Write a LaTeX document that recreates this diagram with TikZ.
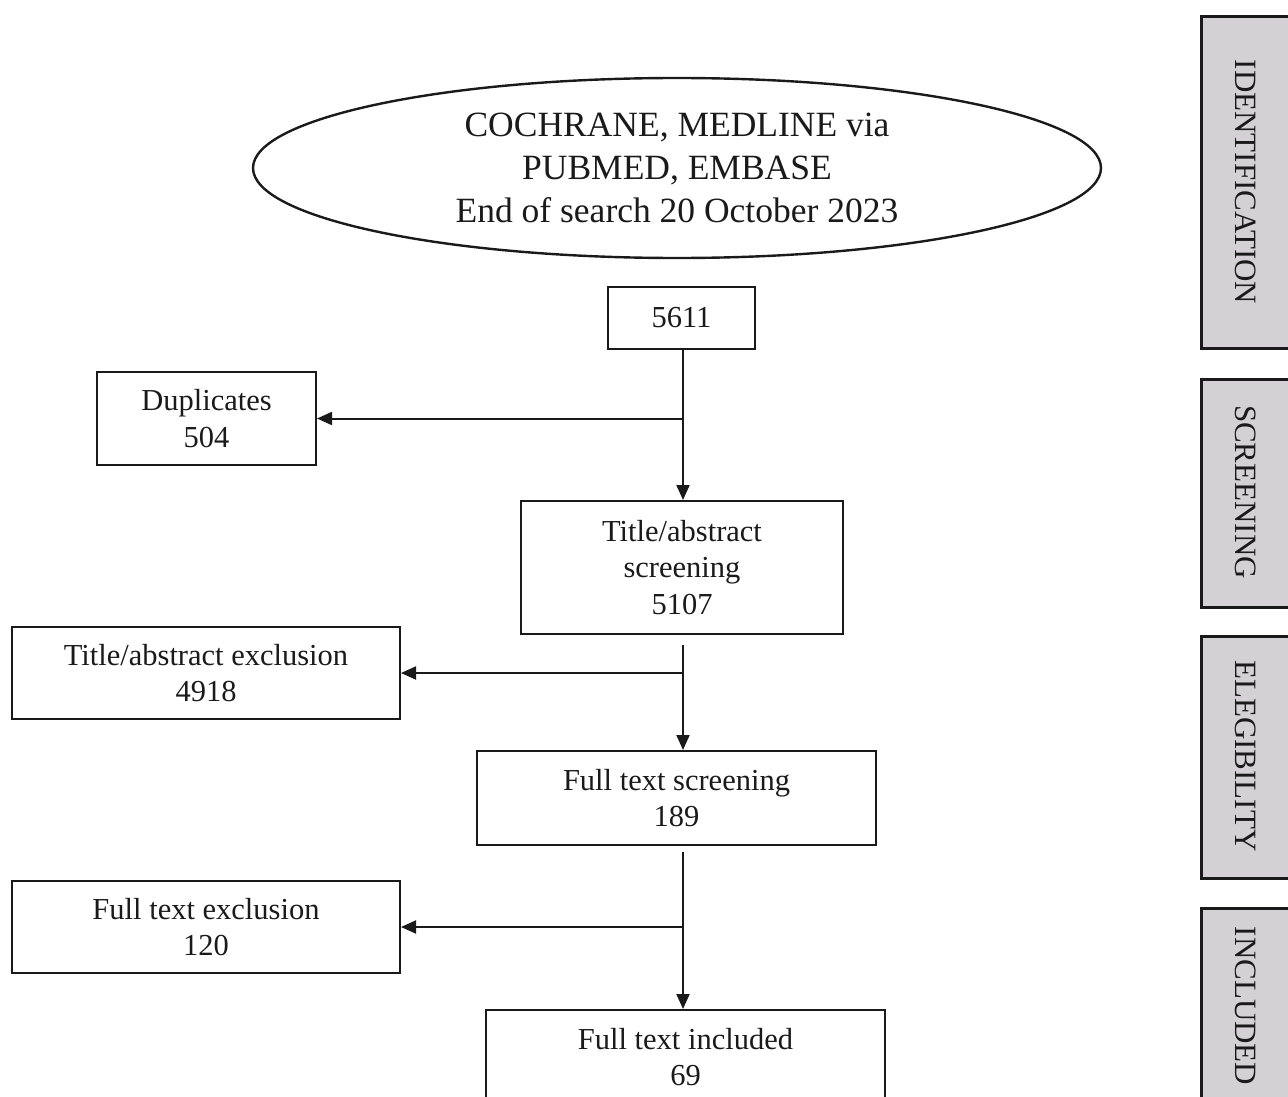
\documentclass[tikz,border=0pt]{standalone}
\usepackage{fontspec}
\setmainfont{Liberation Serif}
\usetikzlibrary{shapes.geometric,arrows.meta}
\definecolor{sidegrey}{HTML}{D3D1D3}
\definecolor{inkc}{HTML}{1A1A1A}
\tikzset{
  flowbox/.style={draw=inkc, line width=2pt, rectangle, inner sep=0pt, align=center,
    font=\fontsize{30.5}{36.5}\selectfont, text=inkc},
  sidebox/.style={draw=inkc, line width=2.6pt, fill=sidegrey, rectangle, inner sep=0pt},
  sidelabel/.style={rotate=-90, font=\fontsize{31}{36}\selectfont, text=inkc, inner sep=0pt},
  conn/.style={draw=inkc, line width=2pt, -{Triangle[length=15pt,width=13pt]}},
  plain/.style={draw=inkc, line width=2pt}
}
\begin{document}
\begin{tikzpicture}[x=1pt,y=-1pt]
\useasboundingbox (0,0) rectangle (1288,1097);
\begin{scope}
\clip (0,0) rectangle (1288,1097);
% side phase boxes
\node[sidebox, minimum width=100pt, minimum height=332pt, anchor=north west] (sid) at (1200,15) {};
\node[sidebox, minimum width=100pt, minimum height=228pt, anchor=north west] (sscr) at (1200,378) {};
\node[sidebox, minimum width=100pt, minimum height=242pt, anchor=north west] (sele) at (1200,635) {};
\node[sidebox, minimum width=100pt, minimum height=210pt, anchor=north west] (sinc) at (1200,907) {};
\node[sidelabel] (lid) at (1246,182) {IDENTIFICATION};
\node[sidelabel] (lscr) at (1246,492) {SCREENING};
\node[sidelabel] (lele) at (1246,756) {ELEGIBILITY};
\node[sidelabel] (linc) at (1246,1006) {INCLUDED};

% database ellipse
\node[draw=inkc, line width=2.4pt, ellipse, minimum width=848pt, minimum height=180pt, inner sep=0pt,
  align=center, font=\fontsize{35.5}{43}\selectfont, text=inkc] (db) at (677,168)
  {COCHRANE, MEDLINE via\\PUBMED, EMBASE\\End of search 20 October 2023};

% flow boxes
\node[flowbox, minimum width=147pt, minimum height=62pt] (n5611) at (681.5,318) {5611};
\node[flowbox, minimum width=219pt, minimum height=93pt] (dup) at (206.5,418.5) {Duplicates\\504};
\node[flowbox, minimum width=322pt, minimum height=133pt] (tas) at (682,567.5) {Title/abstract\\screening\\5107};
\node[flowbox, minimum width=388pt, minimum height=92pt] (tae) at (206,673) {Title/abstract exclusion\\4918};
\node[flowbox, minimum width=399pt, minimum height=94pt] (fts) at (676.5,798) {Full text screening\\189};
\node[flowbox, minimum width=388pt, minimum height=92pt] (fte) at (206,927) {Full text exclusion\\120};
\node[flowbox, minimum width=399pt, minimum height=94pt, anchor=north] (fti) at (685.5,1009) {Full text included\\69};

% junction coordinates
\coordinate (c1) at (683,418.5);
\coordinate (s2) at (683,645);
\coordinate (c2) at (683,673);
\coordinate (s3) at (683,852);
\coordinate (c3) at (683,927);

% connectors
\draw[conn] (n5611.south -| c1) -- (tas.north -| c1);
\draw[conn] (c1) -- (dup.east);
\draw[conn] (s2) -- (fts.north -| s2);
\draw[conn] (c2) -- (tae.east);
\draw[conn] (s3) -- (fti.north -| s3);
\draw[conn] (c3) -- (fte.east);
\end{scope}
\end{tikzpicture}
\end{document}
